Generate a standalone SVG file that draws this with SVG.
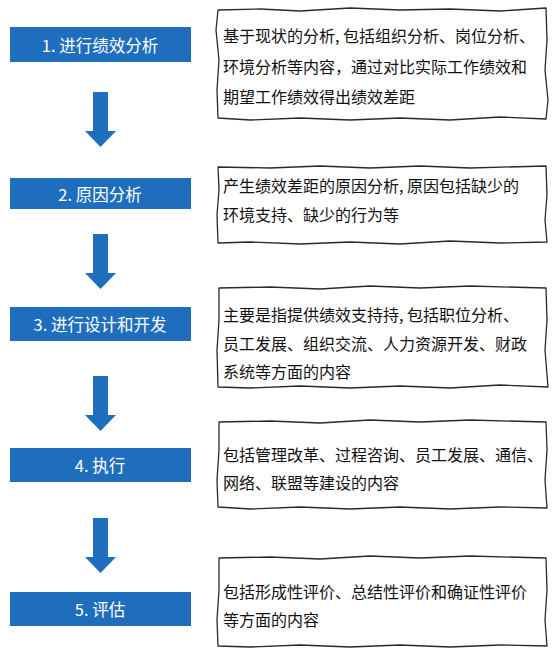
<svg xmlns="http://www.w3.org/2000/svg" width="559" height="651" viewBox="0 0 559 651">
<style>
.bar{fill:#1f6ebd}
.bt{fill:#fff;font-family:"Noto Sans CJK SC","Noto Sans",sans-serif;font-size:16.5px;text-anchor:middle;dominant-baseline:central}
.box{fill:#fff;stroke:#2a2a2a;stroke-width:1.3;stroke-linejoin:round}
.tx{fill:#111;font-family:"Noto Sans CJK SC","Noto Sans",sans-serif;font-size:16px;dominant-baseline:central}
.arr{fill:#1f6ebd}
</style>
<rect width="559" height="651" fill="#fff"/>
<g id="connectors">
<path class="arr" d="M93 92 H108 V131 H116 L100.5 147 L85 131 H93 Z"/>
<path class="arr" d="M93 234 H108 V273 H116 L100.5 289 L85 273 H93 Z"/>
<path class="arr" d="M93 376 H108 V415 H116 L100.5 431 L85 415 H93 Z"/>
<path class="arr" d="M93 518 H108 V557 H116 L100.5 573 L85 557 H93 Z"/>
</g>
<g id="step1">
<rect class="bar" x="10" y="27" width="181" height="35"/>
<text class="bt" x="100" y="44.5">1. 进行绩效分析</text>
</g>
<g id="step2">
<rect class="bar" x="10" y="178" width="181" height="31"/>
<text class="bt" x="100" y="193.5">2. 原因分析</text>
</g>
<g id="step3">
<rect class="bar" x="10" y="307" width="181" height="34"/>
<text class="bt" x="100" y="324">3. 进行设计和开发</text>
</g>
<g id="step4">
<rect class="bar" x="10" y="448" width="181" height="34"/>
<text class="bt" x="100" y="465">4. 执行</text>
</g>
<g id="step5">
<rect class="bar" x="10" y="592" width="181" height="34"/>
<text class="bt" x="100" y="609">5. 评估</text>
</g>
<g id="desc1">
<path class="box" d="M218 10 L260 9 L300 11 L350 8 L400 10 L450 9 L500 11 L546 8 L547 40 L545 70 L548 100 L546 119 L500 117 L450 120 L400 118 L350 120 L300 118 L250 120 L218 118 L217 90 L219 60 L216 30 Z"/>
<text class="tx" x="223" y="35">基于现状的分析, 包括组织分析、岗位分析、</text>
<text class="tx" x="223" y="66">环境分析等内容，通过对比实际工作绩效和</text>
<text class="tx" x="223" y="96">期望工作绩效得出绩效差距</text>
</g>
<g id="desc2">
<path class="box" d="M218 167 L270 168 L320 166 L370 168 L420 166 L470 168 L546 166 L547 195 L545 220 L547 242 L500 243 L450 241 L400 244 L350 242 L300 244 L250 242 L218 243 L217 215 L219 190 Z"/>
<text class="tx" x="223" y="185">产生绩效差距的原因分析, 原因包括缺少的</text>
<text class="tx" x="223" y="214">环境支持、缺少的行为等</text>
</g>
<g id="desc3">
<path class="box" d="M219 288 L270 287 L320 289 L370 286 L420 288 L470 286 L546 288 L547 320 L545 350 L548 387 L500 385 L450 388 L400 386 L350 388 L300 386 L250 388 L218 387 L217 350 L219 320 Z"/>
<text class="tx" x="223" y="314">主要是指提供绩效支持持, 包括职位分析、</text>
<text class="tx" x="223" y="343">员工发展、组织交流、人力资源开发、财政</text>
<text class="tx" x="223" y="371">系统等方面的内容</text>
</g>
<g id="desc4">
<path class="box" d="M219 422 L270 421 L320 423 L370 420 L420 422 L470 420 L546 422 L547 450 L545 480 L547 508 L500 507 L450 509 L400 507 L350 509 L300 507 L250 509 L218 507 L217 480 L219 450 Z"/>
<text class="tx" x="223" y="454">包括管理改革、过程咨询、员工发展、通信、</text>
<text class="tx" x="223" y="482">网络、联盟等建设的内容</text>
</g>
<g id="desc5">
<path class="box" d="M219 558 L270 557 L320 559 L370 556 L420 558 L470 556 L546 558 L547 590 L545 620 L547 646 L500 645 L450 647 L400 645 L350 647 L300 645 L250 647 L218 646 L217 620 L219 590 Z"/>
<text class="tx" x="223" y="591">包括形成性评价、总结性评价和确证性评价</text>
<text class="tx" x="223" y="619">等方面的内容</text>
</g>
</svg>
